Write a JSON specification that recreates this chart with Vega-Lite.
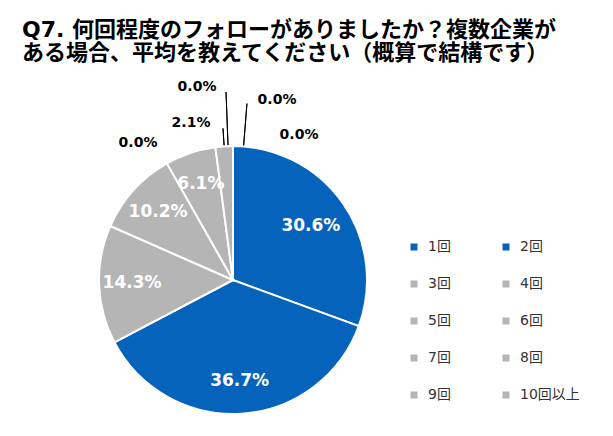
{
  "$schema": "https://vega.github.io/schema/vega-lite/v6.json",
  "width": 268,
  "height": 268,
  "autosize": "none",
  "padding": {"left": 99, "top": 146, "right": 246, "bottom": 22},
  "background": "white",
  "config": {"view": {"stroke": null}},
  "title": {
    "text": ["Q7. 何回程度のフォローがありましたか？複数企業が", "ある場合、平均を教えてください（概算で結構です）"],
    "anchor": "start",
    "frame": "group",
    "dx": -77,
    "offset": 15,
    "font": "DejaVu Sans, Noto Sans CJK JP",
    "fontSize": 22,
    "fontWeight": "bold",
    "color": "#000000",
    "lineHeight": 23
  },
  "data": {
    "values": [
      {"category": "1回", "value": 0.306, "order": 1},
      {"category": "2回", "value": 0.367, "order": 2},
      {"category": "3回", "value": 0.143, "order": 3},
      {"category": "4回", "value": 0.102, "order": 4},
      {"category": "5回", "value": 0.061, "order": 5},
      {"category": "6回", "value": 0.021, "order": 6},
      {"category": "7回", "value": 0.0, "order": 7},
      {"category": "8回", "value": 0.0, "order": 8},
      {"category": "9回", "value": 0.0, "order": 9},
      {"category": "10回以上", "value": 0.0, "order": 10}
    ]
  },
  "layer": [
    {
      "mark": {"type": "arc", "outerRadius": 134, "stroke": "white", "strokeWidth": 2},
      "encoding": {
        "theta": {"field": "value", "type": "quantitative", "stack": true, "scale": {"domain": [0, 1]}},
        "order": {"field": "order", "type": "quantitative"},
        "color": {
          "field": "category",
          "type": "nominal",
          "scale": {
            "domain": ["1回", "2回", "3回", "4回", "5回", "6回", "7回", "8回", "9回", "10回以上"],
            "range": ["#0563BB", "#0563BB", "#B5B5B5", "#B5B5B5", "#B5B5B5", "#B5B5B5", "#B5B5B5", "#B5B5B5", "#B5B5B5", "#B5B5B5"]
          },
          "legend": {
            "title": null,
            "orient": "none",
            "legendX": 308,
            "legendY": 94,
            "columns": 2,
            "direction": "horizontal",
            "padding": 0,
            "symbolType": "square",
            "symbolSize": 49,
            "symbolStrokeWidth": 0,
            "labelFont": "DejaVu Sans, Noto Sans CJK JP",
            "labelFontSize": 14,
            "labelColor": "#333333",
            "labelOffset": 7,
            "rowPadding": 23,
            "columnPadding": 48
          }
        }
      }
    },
    {
      "mark": {"type": "text", "radius": 95, "font": "DejaVu Sans", "fontSize": 17, "fontWeight": "bold", "fill": "white"},
      "encoding": {
        "theta": {"field": "value", "type": "quantitative", "stack": true},
        "order": {"field": "order", "type": "quantitative"},
        "text": {"condition": {"test": "datum.order === 1", "field": "value", "format": ".1%"}, "value": ""}
      }
    },
    {
      "mark": {"type": "text", "radius": 101, "font": "DejaVu Sans", "fontSize": 17, "fontWeight": "bold", "fill": "white"},
      "encoding": {
        "theta": {"field": "value", "type": "quantitative", "stack": true},
        "order": {"field": "order", "type": "quantitative"},
        "text": {"condition": {"test": "datum.order >= 2 && datum.order <= 5", "field": "value", "format": ".1%"}, "value": ""}
      }
    },
    {
      "transform": [
        {"stack": "value", "groupby": [], "sort": [{"field": "order"}], "as": ["s0", "s1"]},
        {"filter": "datum.order === 6"}
      ],
      "mark": {"type": "arc", "filled": false, "stroke": "black", "strokeWidth": 1, "innerRadius": 135, "outerRadius": 152, "thetaOffset": -0.066, "theta2Offset": -0.066},
      "encoding": {
        "theta": {"field": "s1", "type": "quantitative", "stack": null},
        "theta2": {"field": "s1"}
      }
    },
    {
      "transform": [
        {"stack": "value", "groupby": [], "sort": [{"field": "order"}], "as": ["s0", "s1"]},
        {"filter": "datum.order === 8"}
      ],
      "mark": {"type": "arc", "filled": false, "stroke": "black", "strokeWidth": 1, "innerRadius": 135, "outerRadius": 188, "thetaOffset": -0.037, "theta2Offset": -0.037},
      "encoding": {
        "theta": {"field": "s1", "type": "quantitative", "stack": null},
        "theta2": {"field": "s1"}
      }
    },
    {
      "transform": [
        {"stack": "value", "groupby": [], "sort": [{"field": "order"}], "as": ["s0", "s1"]},
        {"filter": "datum.order === 9"}
      ],
      "mark": {"type": "arc", "filled": false, "stroke": "black", "strokeWidth": 1, "innerRadius": 135, "outerRadius": 177, "thetaOffset": 0.079, "theta2Offset": 0.079},
      "encoding": {
        "theta": {"field": "s1", "type": "quantitative", "stack": null},
        "theta2": {"field": "s1"}
      }
    },
    {
      "transform": [
        {"stack": "value", "groupby": [], "sort": [{"field": "order"}], "as": ["s0", "s1"]},
        {"filter": "datum.order === 6"}
      ],
      "mark": {"type": "text", "radius": 134, "dx": -42, "dy": -23, "font": "DejaVu Sans", "fontSize": 14, "fontWeight": "bold", "fill": "black"},
      "encoding": {
        "theta": {"field": "s1", "type": "quantitative", "stack": null},
        "text": {"field": "value", "format": ".1%"}
      }
    },
    {
      "transform": [
        {"stack": "value", "groupby": [], "sort": [{"field": "order"}], "as": ["s0", "s1"]},
        {"filter": "datum.order === 7"}
      ],
      "mark": {"type": "text", "radius": 134, "dx": -95, "dy": -3, "font": "DejaVu Sans", "fontSize": 14, "fontWeight": "bold", "fill": "black"},
      "encoding": {
        "theta": {"field": "s1", "type": "quantitative", "stack": null},
        "text": {"field": "value", "format": ".1%"}
      }
    },
    {
      "transform": [
        {"stack": "value", "groupby": [], "sort": [{"field": "order"}], "as": ["s0", "s1"]},
        {"filter": "datum.order === 8"}
      ],
      "mark": {"type": "text", "radius": 134, "dx": -36, "dy": -59, "font": "DejaVu Sans", "fontSize": 14, "fontWeight": "bold", "fill": "black"},
      "encoding": {
        "theta": {"field": "s1", "type": "quantitative", "stack": null},
        "text": {"field": "value", "format": ".1%"}
      }
    },
    {
      "transform": [
        {"stack": "value", "groupby": [], "sort": [{"field": "order"}], "as": ["s0", "s1"]},
        {"filter": "datum.order === 9"}
      ],
      "mark": {"type": "text", "radius": 134, "dx": 44, "dy": -46, "font": "DejaVu Sans", "fontSize": 14, "fontWeight": "bold", "fill": "black"},
      "encoding": {
        "theta": {"field": "s1", "type": "quantitative", "stack": null},
        "text": {"field": "value", "format": ".1%"}
      }
    },
    {
      "transform": [
        {"stack": "value", "groupby": [], "sort": [{"field": "order"}], "as": ["s0", "s1"]},
        {"filter": "datum.order === 10"}
      ],
      "mark": {"type": "text", "radius": 134, "dx": 66, "dy": -11, "font": "DejaVu Sans", "fontSize": 14, "fontWeight": "bold", "fill": "black"},
      "encoding": {
        "theta": {"field": "s1", "type": "quantitative", "stack": null},
        "text": {"field": "value", "format": ".1%"}
      }
    }
  ]
}
